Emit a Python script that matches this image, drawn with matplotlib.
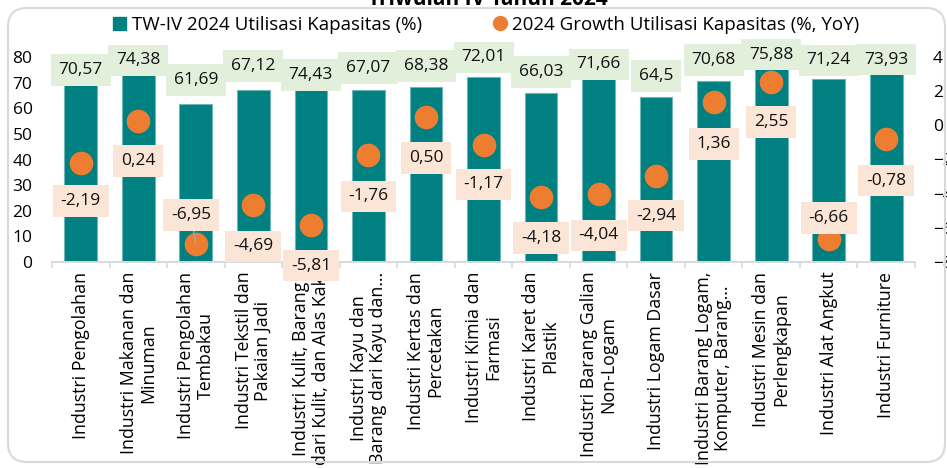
import matplotlib.pyplot as plt
import matplotlib.patches as mpatches
from matplotlib.lines import Line2D
import numpy as np

plt.rcParams['font.family'] = ['Open Sans', 'DejaVu Sans']

categories = [
    "Industri Pengolahan",
    "Industri Makanan dan\nMinuman",
    "Industri Pengolahan\nTembakau",
    "Industri Tekstil dan\nPakaian Jadi",
    "Industri Kulit, Barang\ndari Kulit, dan Alas Kaki",
    "Industri Kayu dan\nBarang dari Kayu dan…",
    "Industri Kertas dan\nPercetakan",
    "Industri Kimia dan\nFarmasi",
    "Industri Karet dan\nPlastik",
    "Industri Barang Galian\nNon-Logam",
    "Industri Logam Dasar",
    "Industri Barang Logam,\nKomputer, Barang…",
    "Industri Mesin dan\nPerlengkapan",
    "Industri Alat Angkut",
    "Industri Furniture",
]
utilisasi = [70.57, 74.38, 61.69, 67.12, 74.43, 67.07, 68.38, 72.01,
             66.03, 71.66, 64.5, 70.68, 75.88, 71.24, 73.93]
growth = [-2.19, 0.24, -6.95, -4.69, -5.81, -1.76, 0.50, -1.17,
          -4.18, -4.04, -2.94, 1.36, 2.55, -6.66, -0.78]

# label placement (pixels, as dragged in the original)
util_off = [11, 11, 24, 24, -4, 22, 21, 20, 21, 14, 21, 21, 13, 19, 13]
growth_off = [-38, -40, 29, -41, -41, -41, -41, -39, -41, -41, -40, -42, -40, 21, -42]
growth_dx = [0, 0, -5, 0, 0, 0, 0, 0, 0, 0, 0, 0, 0, 0, 0]

teal = '#008080'
orange = '#ED7D31'
green_box = '#E2EFDA'
peach_box = '#FBE5D6'
axis_grey = '#D9D9D9'

W, H = 947, 468
fig = plt.figure(figsize=(W / 100, H / 100), dpi=100)
ax = fig.add_axes([52 / W, 1 - 262 / H, (915 - 52) / W, 205 / H])
ax2 = ax.twinx()

x = np.arange(len(categories))
ax.bar(x, utilisasi, width=0.57, color=teal, edgecolor='#6FB5B5', linewidth=0.8, zorder=2)

for i, v in enumerate(utilisasi):
    ax.annotate(('%g' % v).replace('.', ','), (x[i], v), xytext=(0, util_off[i]),
                textcoords='offset pixels', ha='center', va='center', fontsize=12.5,
                color='#111111', zorder=5,
                bbox=dict(boxstyle='square,pad=0.45', fc=green_box, ec='none'))

ax2.plot(x, growth, 'o', color=orange, markersize=16, zorder=3)

for i, g in enumerate(growth):
    arrow = None
    if i == 2:
        arrow = dict(arrowstyle='-', color='#A6A6A6', lw=1, shrinkA=0, shrinkB=0)
    ax2.annotate(('%.2f' % g).replace('.', ','), (x[i], g),
                 xytext=(growth_dx[i], growth_off[i]), textcoords='offset pixels',
                 ha='center', va='center', fontsize=12.5, color='#111111', zorder=6,
                 annotation_clip=False, arrowprops=arrow,
                 bbox=dict(boxstyle='square,pad=0.45', fc=peach_box, ec='none'))

ax.set_xlim(-0.5, len(categories) - 0.5)
ax.set_ylim(0, 80)
ax2.set_ylim(-8, 4)
ax.set_yticks(np.arange(0, 81, 10))
ax2.set_yticks(np.arange(-8, 5, 2))

ax.set_xticks(x)
ax.set_xticklabels(categories, rotation=90, fontsize=12.8, multialignment='center',
                   linespacing=1.1)
ax.set_xticks(np.arange(-0.5, len(categories), 1), minor=True)
ax.tick_params(axis='x', which='major', length=0, pad=7)
ax.tick_params(axis='x', which='minor', length=4, color=axis_grey, width=1.2)
ax.tick_params(axis='y', length=0, pad=14, labelsize=12.5)
ax2.tick_params(axis='y', length=0, pad=13, labelsize=12.5)

for a in (ax, ax2):
    for s in ['top', 'left', 'right']:
        a.spines[s].set_visible(False)
    a.spines['bottom'].set_color(axis_grey)
    a.spines['bottom'].set_linewidth(1.2)

handles = [
    mpatches.Patch(color=teal, label='TW-IV 2024 Utilisasi Kapasitas (%)'),
    Line2D([], [], marker='o', color=orange, linestyle='none', markersize=10,
           label='2024 Growth Utilisasi Kapasitas (%, YoY)'),
]
fig.legend(handles=handles, loc='center', bbox_to_anchor=(486 / W, 1 - 25 / H), ncol=2,
           frameon=False, fontsize=13.5, handlelength=0.7, handleheight=0.7,
           handletextpad=0.3, columnspacing=3.8)

fig.text(488 / W, 1 - 5 / H, 'Triwulan IV Tahun 2024', ha='center', va='baseline',
         fontsize=15, fontweight='bold')

border = mpatches.FancyBboxPatch((8 / W, 6 / H), 937 / W, 454 / H,
                                 boxstyle='round,pad=0,rounding_size=0.02',
                                 transform=fig.transFigure, fc='none',
                                 ec=axis_grey, lw=1.5, mutation_aspect=W / H)
fig.add_artist(border)

fig.savefig('out.png', dpi=100)
